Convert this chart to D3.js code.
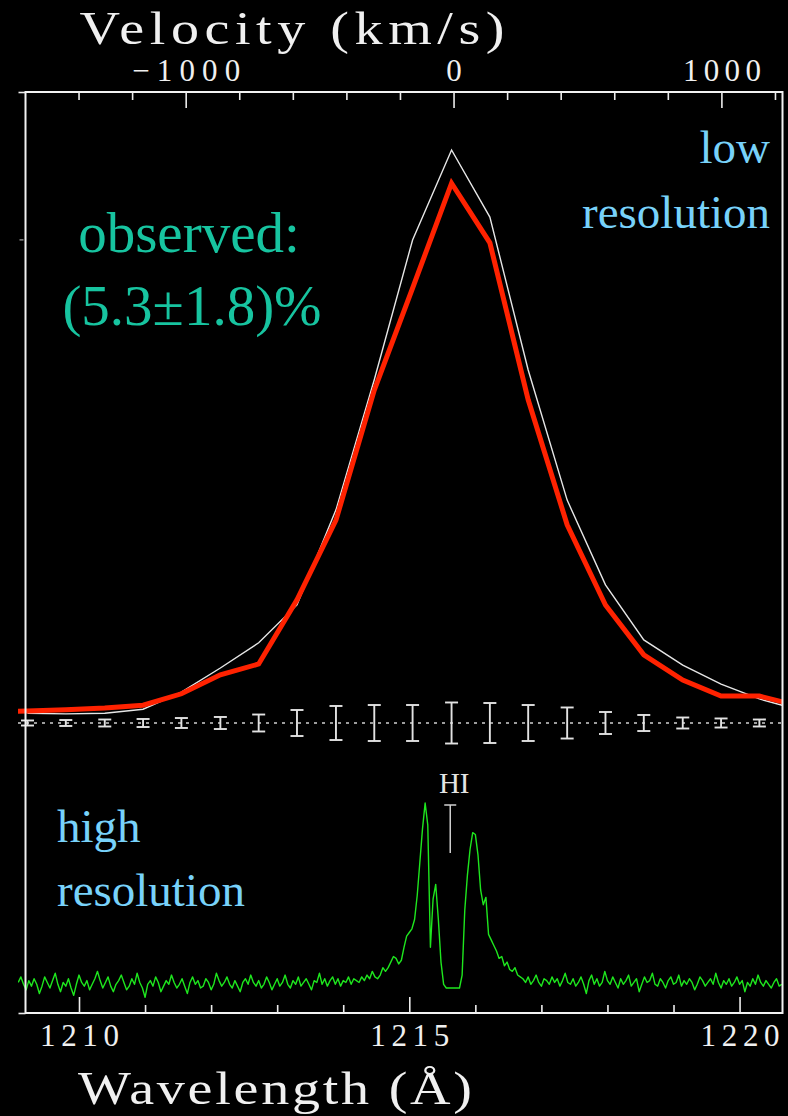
<!DOCTYPE html>
<html>
<head>
<meta charset="utf-8">
<script src="https://cdn.jsdelivr.net/npm/d3@7"></script>
<style>
  html, body { margin: 0; padding: 0; background: #000; }
  svg { display: block; }
</style>
</head>
<body>
<svg id="chart" width="788" height="1116"></svg>
<script>
// ---- Low-resolution bins (Angstrom) ----
const binWavelength = [1208.64, 1209.22, 1209.80, 1210.39, 1210.97, 1211.55, 1212.14, 1212.72,
  1213.30, 1213.89, 1214.47, 1215.05, 1215.64, 1216.22, 1216.80, 1217.39, 1217.97, 1218.55,
  1219.14, 1219.72, 1220.30, 1220.89];
// Smoothed high-resolution spectrum (relative flux, peak = 100)
const smoothedFlux = [1.8, 1.7, 1.6, 1.7, 2.4, 5.4, 9.6, 14.0, 20.6, 37.2, 59.9, 84.3, 100,
  88.3, 61.6, 38.9, 24.1, 14.5, 10.1, 6.8, 4.2, 2.3];
// Observed low-resolution profile
const observedFlux = [1.9, 2.1, 2.3, 2.6, 3.1, 5.1, 8.4, 10.3, 21.5, 35.4, 58.1, 75.9, 94.2,
  83.8, 56.4, 34.6, 20.6, 11.9, 7.5, 4.7, 4.7, 3.0];
// 1-sigma uncertainties of the residuals (null = no bar)
const residualError = [null, 0.44, 0.52, 0.61, 0.70, 0.87, 1.05, 1.48, 2.27, 2.97, 3.14, 3.14,
  3.58, 3.49, 3.14, 2.71, 1.92, 1.40, 0.96, 0.79, 0.61, null];

// ---- High-resolution spectrum: start wavelength and pixel step ----
const hiresStart = 1209.08;
const hiresStep = 0.04;
const hiresFlux = [
  3, 6, 2, -1, 4, 1, 5, 2, -3, 1, 6, 3, 0, 4, 8, 2, -2, 3, 1, 5,
  0, -4, 2, 7, 3, 1, 4, -1, 2, 5, 9, 4, 0, 3, 6, 1, -2, 2, 4, 7,
  3, -1, 1, 5, 2, 8, 3, 0, -5, 2, 4, 1, 6, 3, -2, 1, 4, 2, 7, 3,
  0, 2, 5, 1, -3, 3, 6, 2, 4, 0, 1, 5, 3, -1, 2, 8, 4, 1, 3, 6,
  2, 0, 4, 1, -2, 3, 5, 2, 7, 3, 1, 4, 0, 2, 6, 3, -1, 2, 5, 1,
  3, 7, 2, 0, 4, 2, 6, 1, 3, 5, 2, -1, 4, 3, 8, 2, 5, 1, 4, 6,
  2, 5, 1, 4, 3, 6, 2, 5, 4, 3, 6, 4, 7, 5, 9, 6,
  5, 7, 11, 9, 11, 14, 17, 16, 13, 15,
  22, 28, 30, 32, 37, 50, 68, 86, 100, 88,
  22, 48, 56, 37, 14, 2, 0, 0, 0, 0,
  0, 0, 7, 42, 61, 75, 84, 83, 72, 53,
  45, 49, 29, 26, 23, 20, 16, 17, 12, 14,
  10, 9, 11, 7, 6,
  5, 3, 6, 2, 4, 7, 3, 1, 5, 4, 2, 6, 3, 5, 1, 4, 8, 3, 2, 5,
  1, 3, 6, 2, -3, 4, 7, 2, 5, 1, 3, 9, 4, 2, 6, 3, 0, 5, 2, 4,
  7, 1, 3, 5, -2, 2, 6, 3, 4, 8, 2, 1, 5, 3, 0, 4, 6, 2, 3, 7,
  1, 4, 2, 5, 3, -1, 2, 6, 4, 1, 3, 5, 2, 8, 3, 0, 4, 2, 5, 1,
  3, 6, 2, 4, -2, 3, 1, 5, 2, 7, 3, 1, 4, 2, 0, 3, 5, 1, 2
];

// ---- Axis ticks ----
const wavelengthMajor = [1210, 1215, 1220];
const wavelengthMinor = [1211, 1212, 1213, 1214, 1216, 1217, 1218, 1219];
const velocityMajor = [-1000, 0, 1000];
const velocityMinor = [-1400, -1200, -800, -600, -400, -200, 200, 400, 600, 800, 1200];
const hiLineWavelength = 1215.62;

// ---- Layout ----
const W = 788, H = 1116;
const frame = { left: 25.5, right: 782.5, top: 92, bottom: 1013 };
const dataLeft = 18;
const SERIF = "'Liberation Serif', 'Times New Roman', serif";
const AXIS_COLOR = "#ececec";

const svg = d3.select("#chart");
svg.append("rect").attr("width", W).attr("height", H).attr("fill", "#000");

const x = d3.scaleLinear().domain([1209.19, 1220.65]).range([frame.left, frame.right]);
const yLow = d3.scaleLinear().domain([0, 100]).range([723, 150]);
const yHigh = d3.scaleLinear().domain([0, 100]).range([988, 803]);
const yPanel = d3.scaleLinear().domain([0, 1]).range([frame.bottom, frame.top]);

const C_KMS = 299792.458, LYA = 1215.67;
const vel = d3.scaleLinear().domain([-1000, 1000])
  .range([x(LYA * (1 - 1000 / C_KMS)), x(LYA * (1 + 1000 / C_KMS))]);

svg.append("defs").append("clipPath").attr("id", "plot-clip")
  .append("rect")
  .attr("x", dataLeft).attr("y", frame.top)
  .attr("width", frame.right - dataLeft).attr("height", frame.bottom - frame.top);

const plot = svg.append("g").attr("clip-path", "url(#plot-clip)");

// zero line of the residuals
plot.append("line")
  .attr("x1", dataLeft).attr("x2", frame.right)
  .attr("y1", yLow(0)).attr("y2", yLow(0))
  .attr("stroke", "#d0d0d0").attr("stroke-width", 1.4)
  .attr("stroke-dasharray", "3,5");

// residual error bars
const bars = binWavelength.map((l, i) => ({ l, e: residualError[i] })).filter(d => d.e != null);
const capHalf = 6.5;
const eb = plot.append("g").attr("stroke", "#e2e2e2").attr("stroke-width", 1.9);
eb.selectAll("line.stem").data(bars).join("line").attr("class", "stem")
  .attr("x1", d => x(d.l)).attr("x2", d => x(d.l))
  .attr("y1", d => yLow(-d.e)).attr("y2", d => yLow(d.e));
eb.selectAll("line.capTop").data(bars).join("line").attr("class", "capTop")
  .attr("x1", d => x(d.l) - capHalf).attr("x2", d => x(d.l) + capHalf)
  .attr("y1", d => yLow(d.e)).attr("y2", d => yLow(d.e));
eb.selectAll("line.capBot").data(bars).join("line").attr("class", "capBot")
  .attr("x1", d => x(d.l) - capHalf).attr("x2", d => x(d.l) + capHalf)
  .attr("y1", d => yLow(-d.e)).attr("y2", d => yLow(-d.e));

// low-resolution profiles
const lowLine = d3.line().x(d => x(d[0])).y(d => yLow(d[1]));
plot.append("path")
  .attr("d", lowLine(binWavelength.map((l, i) => [l, smoothedFlux[i]]).slice(1)))
  .attr("fill", "none").attr("stroke", "#e6e6e6").attr("stroke-width", 1.4);
plot.append("path")
  .attr("d", lowLine(binWavelength.map((l, i) => [l, observedFlux[i]])))
  .attr("fill", "none").attr("stroke", "#ff2200").attr("stroke-width", 5)
  .attr("stroke-linejoin", "miter");

// high-resolution spectrum
const hiLine = d3.line().x(d => x(d[0])).y(d => yHigh(d[1]));
plot.append("path")
  .attr("d", hiLine(hiresFlux.map((f, k) => [hiresStart + k * hiresStep, f])))
  .attr("fill", "none").attr("stroke", "#1ee61e").attr("stroke-width", 1.4)
  .attr("stroke-linejoin", "round");

// HI marker
const hiX = x(hiLineWavelength);
svg.append("line").attr("x1", hiX).attr("x2", hiX).attr("y1", 805).attr("y2", 853)
  .attr("stroke", "#d0d0d0").attr("stroke-width", 1.5);
svg.append("line").attr("x1", hiX - 6).attr("x2", hiX + 6).attr("y1", 805).attr("y2", 805)
  .attr("stroke", "#d0d0d0").attr("stroke-width", 1.5);
svg.append("text").attr("x", hiX + 4).attr("y", 793).attr("text-anchor", "middle")
  .attr("font-family", SERIF).attr("font-size", 29).attr("fill", "#e4e4e4").text("HI");

// frame
svg.append("rect")
  .attr("x", frame.left).attr("y", frame.top)
  .attr("width", frame.right - frame.left).attr("height", frame.bottom - frame.top)
  .attr("fill", "none").attr("stroke", "#f2f2f2").attr("stroke-width", 2);

function styleAxis(g, lens) {
  g.select(".domain").remove();
  g.selectAll(".tick line").attr("stroke", AXIS_COLOR).attr("stroke-width", 1.6);
  g.selectAll(".tick text")
    .attr("fill", "#f0f0f0").attr("font-family", SERIF).attr("font-size", 31)
    .each(function (d) {
      const len = lens ? lens(d) : null;
      if (len) d3.select(this).attr("textLength", len).attr("lengthAdjust", "spacing");
    });
}

// top axis: velocity
const topMinor = svg.append("g").attr("transform", `translate(0,${frame.top})`)
  .call(d3.axisTop(vel).tickValues(velocityMinor).tickSize(-8).tickFormat(""));
styleAxis(topMinor);
const topMajor = svg.append("g").attr("transform", `translate(0,${frame.top})`)
  .call(d3.axisTop(vel).tickValues(velocityMajor).tickSize(-16).tickPadding(11)
    .tickFormat(d3.format("d")));
styleAxis(topMajor, d => d < 0 ? 108 : (d > 0 ? 78 : null));

// bottom axis: wavelength
const botMinor = svg.append("g").attr("transform", `translate(0,${frame.bottom})`)
  .call(d3.axisBottom(x).tickValues(wavelengthMinor).tickSize(-8).tickFormat(""));
styleAxis(botMinor);
const botMajor = svg.append("g").attr("transform", `translate(0,${frame.bottom})`)
  .call(d3.axisBottom(x).tickValues(wavelengthMajor).tickSize(-16).tickPadding(11)
    .tickFormat(d3.format("d")));
styleAxis(botMajor, () => 79);

// left axis stubs
const leftAxis = svg.append("g").attr("transform", `translate(${frame.left},0)`)
  .call(d3.axisLeft(yPanel).tickValues([0, 1]).tickSize(7).tickFormat(""));
styleAxis(leftAxis);
const leftSmall = svg.append("g").attr("transform", `translate(${frame.left - 2},0)`)
  .call(d3.axisLeft(yPanel).tickValues([0.84]).tickSize(4).tickFormat(""));
leftSmall.select(".domain").remove();
leftSmall.selectAll(".tick line").attr("stroke", "#888").attr("stroke-width", 1.5);

// axis titles: wide lettering, stretched horizontally
function wideTitle(cx, y, width, label) {
  const stretch = 1.22;
  svg.append("text")
    .attr("transform", `translate(${cx},${y}) scale(${stretch},1)`)
    .attr("text-anchor", "middle")
    .attr("font-family", SERIF).attr("font-size", 46).attr("fill", "#f0f0f0")
    .attr("textLength", width / stretch).attr("lengthAdjust", "spacing")
    .text(label);
}
wideTitle(292, 44, 425, "Velocity (km/s)");
wideTitle(275, 1104, 394, "Wavelength (Å)");

// annotations
const teal = "#17c4a0", sky = "#78d2fa";
svg.append("text").attr("x", 189).attr("y", 252).attr("text-anchor", "middle")
  .attr("font-family", SERIF).attr("font-size", 57).attr("fill", teal).text("observed:");
svg.append("text").attr("x", 192).attr("y", 325).attr("text-anchor", "middle")
  .attr("font-family", SERIF).attr("font-size", 57).attr("fill", teal).text("(5.3±1.8)%");

svg.append("text").attr("x", 770).attr("y", 163).attr("text-anchor", "end")
  .attr("font-family", SERIF).attr("font-size", 47).attr("fill", sky).text("low");
svg.append("text").attr("x", 770).attr("y", 228).attr("text-anchor", "end")
  .attr("font-family", SERIF).attr("font-size", 47).attr("fill", sky).text("resolution");

svg.append("text").attr("x", 57).attr("y", 842).attr("text-anchor", "start")
  .attr("font-family", SERIF).attr("font-size", 47).attr("fill", sky).text("high");
svg.append("text").attr("x", 57).attr("y", 906).attr("text-anchor", "start")
  .attr("font-family", SERIF).attr("font-size", 47).attr("fill", sky).text("resolution");
</script>
</body>
</html>
